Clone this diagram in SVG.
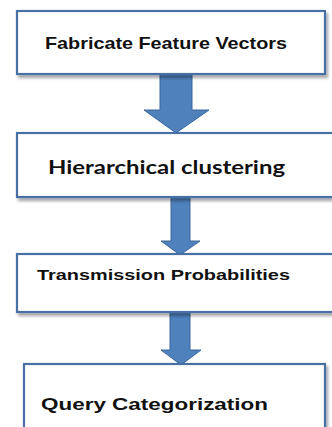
<svg xmlns="http://www.w3.org/2000/svg" width="332" height="427" viewBox="0 0 332 427">
<defs>
<filter id="sh" x="-10%" y="-10%" width="130%" height="140%">
<feDropShadow dx="2" dy="3" stdDeviation="1.5" flood-color="#000" flood-opacity="0.35"/>
</filter>
<style>
.box{fill:#fff;stroke:#4A6FA5;stroke-width:2.2;filter:url(#sh)}
.arr{fill:#4F81BD;stroke:#3C679B;stroke-width:1}
.t{font-family:"Liberation Sans",Arial,sans-serif;font-weight:bold;fill:#111}
.c{font-family:Lato,"Open Sans",sans-serif;font-weight:bold;fill:#111}
</style>
</defs>
<g id="connectors">
<polygon class="arr" points="160,74 192,74 192,110 209,110 176,133 144,110 160,110"/>
<polygon class="arr" points="171,197 190,197 190,241 200,241 180,255 161,241 171,241"/>
<polygon class="arr" points="170,312 190,312 190,350 201,350 181,365 161,350 170,350"/>
</g>
<g id="n1">
<rect class="box" x="17" y="11" width="308" height="63"/>
<text class="t" x="45" y="49" font-size="16.5" textLength="242" lengthAdjust="spacingAndGlyphs">Fabricate Feature Vectors</text>
</g>
<g id="n2">
<rect class="box" x="17" y="133" width="320" height="64"/>
<text class="c" x="48" y="174" font-size="19" textLength="237" lengthAdjust="spacingAndGlyphs">Hierarchical clustering</text>
</g>
<g id="n3">
<rect class="box" x="17" y="254" width="320" height="58"/>
<text class="t" x="37" y="280" font-size="15" textLength="253" lengthAdjust="spacingAndGlyphs">Transmission Probabilities</text>
</g>
<g id="n4">
<rect class="box" x="24" y="364" width="301" height="80"/>
<text class="t" x="41" y="410" font-size="16.5" textLength="227" lengthAdjust="spacingAndGlyphs">Query Categorization</text>
</g>
</svg>
